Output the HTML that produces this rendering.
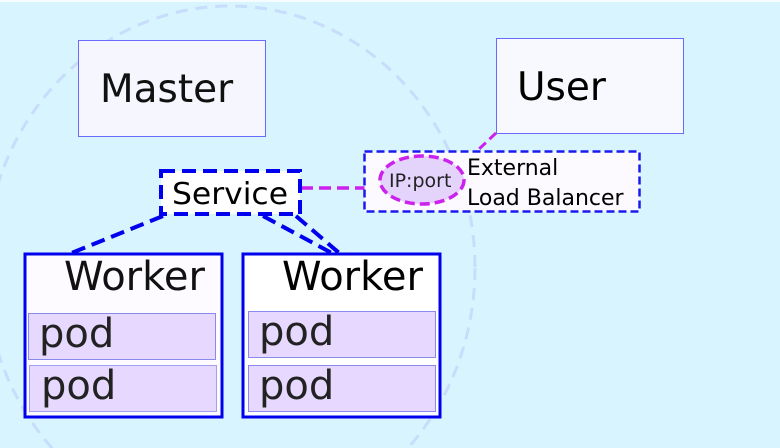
<!DOCTYPE html>
<html><head><style>
html,body{margin:0;padding:0;background:#d8f4fe;width:780px;height:448px;overflow:hidden;}
svg{display:block;font-family:"DejaVu Sans","Liberation Sans",sans-serif;}
</style></head><body>
<svg width="780" height="448" viewBox="0 0 780 448" xmlns="http://www.w3.org/2000/svg">
<rect x="0" y="0" width="780" height="448" fill="#d8f4fe"/>
<rect x="0" y="0" width="780" height="2" fill="#f4fcff"/>
<ellipse cx="230" cy="268" rx="245" ry="262" fill="none" stroke="#c8dcfc" stroke-width="3" stroke-dasharray="12,8"/>
<!-- Master -->
<rect x="78.5" y="40.5" width="187" height="96" fill="#f6f6fe" stroke="#6a6afc" stroke-width="1"/>
<text x="100" y="102" font-size="39" fill="#111">Master</text>
<!-- User -->
<rect x="496.5" y="38.5" width="187" height="95" fill="#f8f9fe" stroke="#6a6afc" stroke-width="1"/>
<text x="517" y="100" font-size="39" fill="#000">User</text>
<!-- connectors -->
<line x1="496" y1="133" x2="478" y2="150" stroke="#cc22ee" stroke-width="3" stroke-dasharray="9,5"/>
<line x1="301" y1="188" x2="365" y2="188" stroke="#cc22ee" stroke-width="3.5" stroke-dasharray="12,6"/>
<line x1="163" y1="216" x2="64" y2="256" stroke="#0000ee" stroke-width="4" stroke-dasharray="14,7"/>
<line x1="263" y1="216" x2="356" y2="266" stroke="#0000ee" stroke-width="4" stroke-dasharray="14,7"/>
<line x1="296" y1="216" x2="352" y2="264" stroke="#0000ee" stroke-width="4" stroke-dasharray="14,7"/>
<!-- Service -->
<rect x="161" y="171" width="139" height="43" fill="#ffffff" stroke="#0000ee" stroke-width="4" stroke-dasharray="14,7"/>
<text x="172" y="204" font-size="30" fill="#000" textLength="116" lengthAdjust="spacingAndGlyphs">Service</text>
<!-- LB -->
<rect x="364.5" y="151.5" width="275" height="60" fill="#fcfaff" stroke="#1a1aee" stroke-width="2.5" stroke-dasharray="8,4"/>
<ellipse cx="422" cy="180" rx="42" ry="24" fill="#e4d4fc" stroke="#cc22ee" stroke-width="3.5" stroke-dasharray="10,5"/>
<text x="389" y="187" font-size="19" fill="#222">IP:port</text>
<text x="467" y="175" font-size="22" fill="#000">External</text>
<text x="467" y="205" font-size="22" fill="#000">Load Balancer</text>
<!-- Worker 1 -->
<rect x="25" y="254" width="197" height="163" fill="#fdfbff" stroke="#0000ee" stroke-width="3"/>
<text x="64" y="290" font-size="40" fill="#111">Worker</text>
<rect x="28.5" y="313.5" width="187" height="46" fill="#e6d8fe" stroke="#8a8aee" stroke-width="1"/>
<text x="39" y="347" font-size="40" fill="#222">pod</text>
<rect x="29.5" y="365.5" width="187" height="46" fill="#e6d8fe" stroke="#a0a0ee" stroke-width="1"/>
<text x="41" y="399" font-size="40" fill="#222">pod</text>
<!-- Worker 2 -->
<rect x="243" y="254" width="197" height="163" fill="#ffffff" stroke="#0000ee" stroke-width="3"/>
<text x="282" y="290" font-size="40" fill="#000">Worker</text>
<rect x="248.5" y="311.5" width="187" height="46" fill="#e6d8fe" stroke="#8a8aee" stroke-width="1"/>
<text x="259" y="345" font-size="40" fill="#222">pod</text>
<rect x="248.5" y="365.5" width="187" height="46" fill="#e6d8fe" stroke="#8a8aee" stroke-width="1"/>
<text x="259" y="399" font-size="40" fill="#222">pod</text>
</svg>
</body></html>
